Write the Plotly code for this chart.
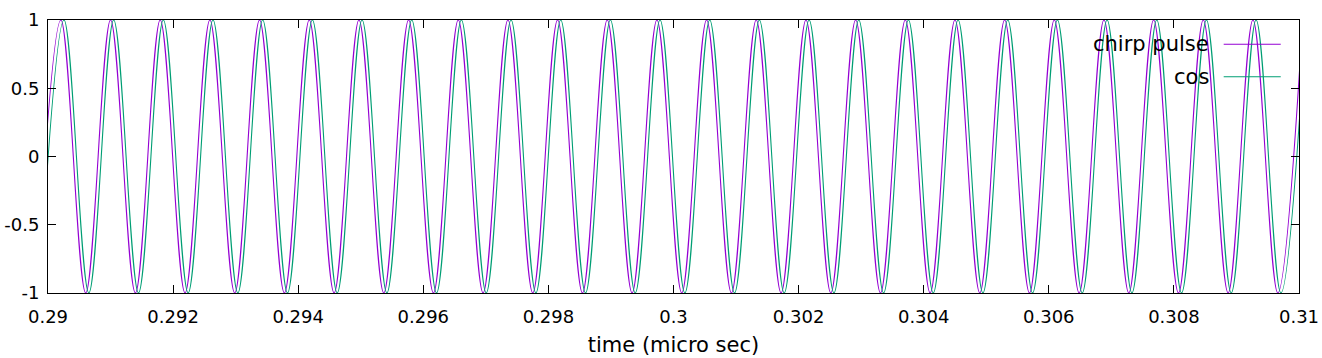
import plotly.graph_objects as go

# Extremum times (micro sec); levels alternate trough/peak
chirp_t = [
    0.289809, 0.290206, 0.290603, 0.291000, 0.291397, 0.291794, 0.292191, 0.292588,
    0.292985, 0.293382, 0.293779, 0.294177, 0.294574, 0.294971, 0.295368, 0.295765,
    0.296162, 0.296559, 0.296956, 0.297353, 0.297750, 0.298147, 0.298544, 0.298941,
    0.299338, 0.299735, 0.300132, 0.300529, 0.300926, 0.301323, 0.301720, 0.302118,
    0.302515, 0.302912, 0.303309, 0.303706, 0.304103, 0.304500, 0.304897, 0.305294,
    0.305691, 0.306088, 0.306485, 0.306882, 0.307279, 0.307676, 0.308073, 0.308470,
    0.308867, 0.309264, 0.309661, 0.310059,
]
cos_t = [
    0.289859, 0.290256, 0.290653, 0.291050, 0.291447, 0.291844, 0.292241, 0.292638,
    0.293035, 0.293432, 0.293829, 0.294227, 0.294624, 0.295021, 0.295418, 0.295815,
    0.296212, 0.296609, 0.297006, 0.297403, 0.297800, 0.298197, 0.298594, 0.298991,
    0.299388, 0.299785, 0.300182, 0.300579, 0.300976, 0.301373, 0.301770, 0.302168,
    0.302565, 0.302962, 0.303359, 0.303756, 0.304153, 0.304550, 0.304947, 0.305344,
    0.305741, 0.306138, 0.306535, 0.306932, 0.307329, 0.307726, 0.308123, 0.308520,
    0.308917, 0.309314, 0.309711, 0.310109,
]
chirp_y = [
    -1, 1, -1, 1, -1, 1, -1, 1, -1, 1, -1, 1, -1, 1, -1, 1, -1, 1, -1, 1,
    -1, 1, -1, 1, -1, 1, -1, 1, -1, 1, -1, 1, -1, 1, -1, 1, -1, 1, -1, 1,
    -1, 1, -1, 1, -1, 1, -1, 1, -1, 1, -1, 1,
]
cos_y = [
    -1, 1, -1, 1, -1, 1, -1, 1, -1, 1, -1, 1, -1, 1, -1, 1, -1, 1, -1, 1,
    -1, 1, -1, 1, -1, 1, -1, 1, -1, 1, -1, 1, -1, 1, -1, 1, -1, 1, -1, 1,
    -1, 1, -1, 1, -1, 1, -1, 1, -1, 1, -1, 1,
]

x_tickvals = [0.29, 0.292, 0.294, 0.296, 0.298, 0.3, 0.302, 0.304, 0.306, 0.308, 0.31]
x_ticktext = ["0.29", "0.292", "0.294", "0.296", "0.298", "0.3", "0.302", "0.304", "0.306", "0.308", "0.31"]
y_tickvals = [-1, -0.5, 0, 0.5, 1]
y_ticktext = ["-1", "-0.5", "0", "0.5", "1"]

series_names = ["chirp pulse", "cos"]
series_colors = ["#9400D3", "#009E73"]

FONT = "DejaVu Sans"
TICK_SIZE = 18
LABEL_SIZE = 21

fig = go.Figure()
for t, y, name, col in [(chirp_t, chirp_y, series_names[0], series_colors[0]),
                        (cos_t, cos_y, series_names[1], series_colors[1])]:
    fig.add_trace(go.Scatter(x=t, y=y, mode="lines", name=name,
                             line=dict(color=col, width=1.1, shape="spline", smoothing=1),
                             showlegend=False, hoverinfo="skip"))

# gnuplot-style key: right-justified text followed by a line sample
key_rows = [0.911, 0.792]
for name, col, yy in zip(series_names, series_colors, key_rows):
    fig.add_annotation(xref="paper", yref="paper", x=0.930, y=yy, text=name,
                       showarrow=False, xanchor="right", yanchor="middle",
                       font=dict(family=FONT, size=LABEL_SIZE, color="black"))
    fig.add_shape(type="line", xref="paper", yref="paper", x0=0.9398, x1=0.9854,
                  y0=yy, y1=yy, line=dict(color=col, width=1.1))

axis_common = dict(showline=True, linecolor="black", linewidth=1, mirror="ticks",
                   ticks="inside", ticklen=8, tickcolor="black", tickwidth=1,
                   showgrid=False, zeroline=False, automargin=False,
                   tickfont=dict(family=FONT, size=TICK_SIZE, color="black"))
fig.update_xaxes(range=[0.29, 0.31], tickvals=x_tickvals, ticktext=x_ticktext,
                 ticklabelstandoff=7,
                 title=dict(text="time (micro sec)",
                            font=dict(family=FONT, size=LABEL_SIZE, color="black"),
                            standoff=11),
                 **axis_common)
fig.update_yaxes(range=[-1, 1], tickvals=y_tickvals, ticktext=y_ticktext,
                 ticklabelstandoff=4, **axis_common)

fig.update_layout(width=1322, height=358, autosize=False,
                  margin=dict(l=48, r=23, t=20, b=65, pad=0, autoexpand=False),
                  paper_bgcolor="white", plot_bgcolor="white",
                  font=dict(family=FONT, size=TICK_SIZE, color="black"))

# remove the browser's default 8px body margin so the figure sits at the page origin
fig.write_html("out.html",
               config={"displayModeBar": False, "staticPlot": True},
               post_script="document.body.style.margin='0';"
                           "document.body.style.overflow='hidden';")
